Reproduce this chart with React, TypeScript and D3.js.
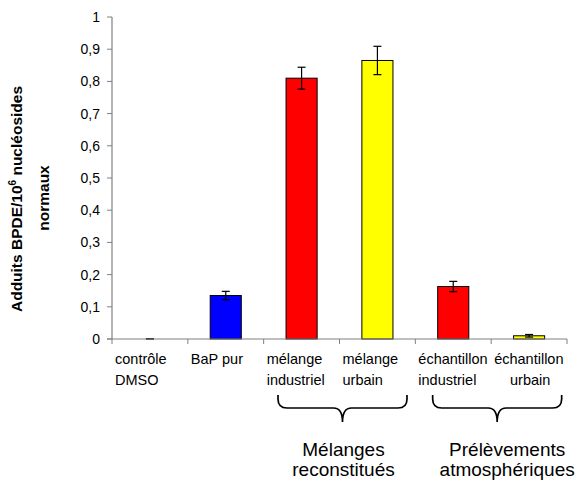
import React from "react";
import * as d3 from "d3";

const categories: string[][] = [
  ["contrôle", "DMSO"],
  ["BaP pur"],
  ["mélange", "industriel"],
  ["mélange", "urbain"],
  ["échantillon", "industriel"],
  ["échantillon", "urbain"],
];
const values = [0, 0.135, 0.81, 0.865, 0.163, 0.01];
const errors = [0.001, 0.013, 0.034, 0.044, 0.016, 0.004];
const colors = ["#ff0000", "#0000ff", "#ff0000", "#ffff00", "#ff0000", "#ffff00"];
const yTicks = [0, 0.1, 0.2, 0.3, 0.4, 0.5, 0.6, 0.7, 0.8, 0.9, 1];
const groups = [
  { from: 2, to: 3, lines: ["Mélanges", "reconstitués"] },
  { from: 4, to: 5, lines: ["Prélèvements", "atmosphériques"] },
];

const W = 582;
const H = 481;
const left = 112;
const right = 567;
const top = 17;
const bottom = 339;
const font = "Arial, 'Liberation Sans', Helvetica, sans-serif";

export default function App() {
  const x = d3.scaleBand<number>().domain(d3.range(categories.length)).range([left, right]).padding(0);
  const y = d3.scaleLinear().domain([0, 1]).range([bottom, top]);
  const bw = x.bandwidth() * 0.41;
  const fmt = (v: number) => (v === 0 ? "0" : v === 1 ? "1" : d3.format(".1f")(v).replace(".", ","));
  const axisColor = "#808080";

  const braceTop = 395;
  const braceMid = 408;
  const braceTip = 422;
  const braceOffsets = [3, 6];
  const textOffsets = [1, 10];
  const braceHalf = 64.5;

  return (
    <svg width={W} height={H} style={{ position: "fixed", left: 0, top: 0, background: "#fff" }} fontFamily={font}>
      {values.map((v, i) => {
        const cx = (x(i) as number) + x.bandwidth() / 2;
        const hi = y(v + errors[i]);
        const lo = y(Math.max(0, v - errors[i]));
        return (
          <g key={i}>
            {v > 0 && (
              <rect x={cx - bw / 2} y={y(v)} width={bw} height={y(0) - y(v)} fill={colors[i]} stroke="#000" strokeWidth={1} />
            )}
            <line x1={cx} x2={cx} y1={hi} y2={lo} stroke="#000" strokeWidth={1.2} />
            <line x1={cx - 4} x2={cx + 4} y1={hi} y2={hi} stroke="#000" strokeWidth={1.2} />
            <line x1={cx - 4} x2={cx + 4} y1={lo} y2={lo} stroke="#000" strokeWidth={1.2} />
          </g>
        );
      })}

      <line x1={left} x2={left} y1={top} y2={bottom} stroke={axisColor} strokeWidth={1.2} />
      {yTicks.map((t) => (
        <g key={t}>
          <line x1={left - 5} x2={left} y1={y(t)} y2={y(t)} stroke={axisColor} strokeWidth={1} />
          <text x={left - 12} y={y(t)} dy="0.35em" textAnchor="end" fontSize={14} fill="#000">
            {fmt(t)}
          </text>
        </g>
      ))}

      <line x1={left - 5} x2={right} y1={bottom} y2={bottom} stroke={axisColor} strokeWidth={1.2} />
      {d3.range(categories.length + 1).map((i) => {
        const xx = i < categories.length ? (x(i) as number) : right;
        return <line key={i} x1={xx} x2={xx} y1={bottom} y2={bottom + 5} stroke={axisColor} strokeWidth={1} />;
      })}

      {categories.map((lines, i) => {
        const x0 = (x(i) as number) + 3;
        const last = i === categories.length - 1;
        return (
          <text key={i} fontSize={14.5} fill="#000">
            {lines.map((ln, j) =>
              last && j === 1 ? (
                <tspan key={j} x={x0 + 36} y={364 + j * 21} textAnchor="middle">
                  {ln}
                </tspan>
              ) : (
                <tspan key={j} x={x0} y={364 + j * 21}>
                  {ln}
                </tspan>
              )
            )}
          </text>
        );
      })}

      {groups.map((g, k) => {
        const gx0 = x(g.from) as number;
        const gx1 = (x(g.to) as number) + x.bandwidth();
        const xm = (gx0 + gx1) / 2 + braceOffsets[k];
        const x0 = xm - braceHalf;
        const x1 = xm + braceHalf;
        const p = d3.path();
        p.moveTo(x0, braceTop);
        p.lineTo(x0, braceTop + 4);
        p.quadraticCurveTo(x0, braceMid, x0 + 9, braceMid);
        p.lineTo(xm - 9, braceMid);
        p.quadraticCurveTo(xm, braceMid, xm, braceTip);
        p.quadraticCurveTo(xm, braceMid, xm + 9, braceMid);
        p.lineTo(x1 - 9, braceMid);
        p.quadraticCurveTo(x1, braceMid, x1, braceTop + 4);
        p.lineTo(x1, braceTop);
        return (
          <g key={k}>
            <path d={p.toString()} fill="none" stroke="#000" strokeWidth={1.7} />
            <text fontSize={19} fill="#000" textAnchor="middle">
              {g.lines.map((ln, j) => (
                <tspan key={j} x={xm + textOffsets[k]} y={456 + j * 20}>
                  {ln}
                </tspan>
              ))}
            </text>
          </g>
        );
      })}

      <g transform={`translate(22, 199) rotate(-90)`}>
        <text textAnchor="middle" fontSize={15.5} fontWeight="bold" fill="#000">
          Adduits BPDE/10
          <tspan fontSize={10} dy="-6">6</tspan>
          <tspan dy="6"> nucléosides</tspan>
        </text>
      </g>
      <g transform={`translate(49, 198) rotate(-90)`}>
        <text textAnchor="middle" fontSize={15.5} fontWeight="bold" fill="#000">
          normaux
        </text>
      </g>
    </svg>
  );
}
